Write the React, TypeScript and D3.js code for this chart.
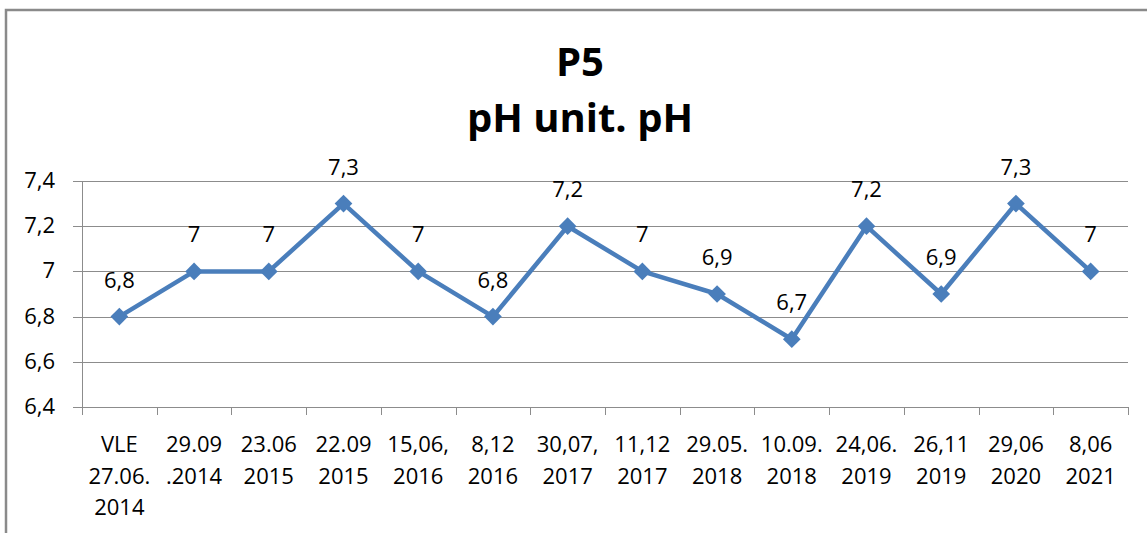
import React, { useEffect, useRef } from 'react';
import * as d3 from 'd3';

// categories (multi-line labels), values, y ticks
const categories = [
  ['VLE', '27.06.', '2014'],
  ['29.09', '.2014'],
  ['23.06', '2015'],
  ['22.09', '2015'],
  ['15,06,', '2016'],
  ['8,12', '2016'],
  ['30,07,', '2017'],
  ['11,12', '2017'],
  ['29.05.', '2018'],
  ['10.09.', '2018'],
  ['24,06.', '2019'],
  ['26,11', '2019'],
  ['29,06', '2020'],
  ['8,06', '2021'],
];
const phValues = [6.8, 7, 7, 7.3, 7, 6.8, 7.2, 7, 6.9, 6.7, 7.2, 6.9, 7.3, 7];
const yTicks = [6.4, 6.6, 6.8, 7, 7.2, 7.4];
const titleLines = ['P5', 'pH unit. pH'];

const fmt = (v: number) => String(+v.toFixed(1)).replace('.', ',');

const App = () => {
  const chartRef = useRef<SVGSVGElement>(null);

  useEffect(() => {
    const W = 1147;
    const H = 533;
    const margin = { top: 181, right: 19, bottom: 126, left: 82 };
    const width = W - margin.left - margin.right;
    const height = H - margin.top - margin.bottom;
    const font = "'Open Sans', 'Liberation Sans', sans-serif";
    const blue = '#4A7EBB';

    const root = d3.select(chartRef.current);
    root.selectAll('*').remove();

    root.append('rect')
      .attr('width', W).attr('height', H).attr('fill', '#fff');

    // outer frame
    root.append('path')
      .attr('d', `M6,${H} V10 H${W}`)
      .attr('fill', 'none')
      .attr('stroke', '#8a8a8a')
      .attr('stroke-width', 2.5);

    root.selectAll('.title')
      .data(titleLines)
      .enter()
      .append('text')
      .attr('x', 580)
      .attr('y', (d, i) => 76 + i * 56)
      .attr('text-anchor', 'middle')
      .attr('font-family', font)
      .attr('font-weight', 'bold')
      .attr('font-size', 40)
      .attr('fill', '#000')
      .text(d => d);

    const svg = root.append('g')
      .attr('transform', `translate(${margin.left},${margin.top})`);

    const xScale = d3.scaleBand<number>()
      .domain(d3.range(categories.length))
      .range([0, width]);

    const yScale = d3.scaleLinear()
      .domain([6.4, 7.4])
      .range([height, 0]);

    // gridlines
    svg.selectAll('.grid')
      .data(yTicks)
      .enter()
      .append('line')
      .attr('x1', -9).attr('x2', width)
      .attr('y1', d => Math.round(yScale(d)) + 0.5)
      .attr('y2', d => Math.round(yScale(d)) + 0.5)
      .attr('stroke', '#8c8c8c')
      .attr('stroke-width', 1);

    // y axis line
    svg.append('line')
      .attr('x1', 0.5).attr('x2', 0.5)
      .attr('y1', 0).attr('y2', height)
      .attr('stroke', '#8c8c8c');

    svg.selectAll('.ylab')
      .data(yTicks)
      .enter()
      .append('text')
      .attr('x', -27)
      .attr('y', d => yScale(d) + 7)
      .attr('text-anchor', 'end')
      .attr('font-family', font)
      .attr('font-size', 22)
      .attr('fill', '#000')
      .text(d => fmt(d));

    // x ticks
    const tickPos = d3.range(categories.length + 1).map(i => i * xScale.bandwidth());
    svg.selectAll('.xtick')
      .data(tickPos)
      .enter()
      .append('line')
      .attr('x1', d => Math.round(d) + 0.5)
      .attr('x2', d => Math.round(d) + 0.5)
      .attr('y1', height).attr('y2', height + 8)
      .attr('stroke', '#8c8c8c');

    const xLab = svg.selectAll('.xlab')
      .data(categories)
      .enter()
      .append('text')
      .attr('text-anchor', 'middle')
      .attr('font-family', font)
      .attr('font-size', 22)
      .attr('fill', '#000');
    xLab.selectAll('tspan')
      .data((d, i) => d.map(s => ({ s, i })))
      .enter()
      .append('tspan')
      .attr('x', d => xScale(d.i)! + xScale.bandwidth() / 2)
      .attr('y', (d, j) => height + 45 + j * 31.5)
      .text(d => d.s);

    const cx = (i: number) => xScale(i)! + xScale.bandwidth() / 2;

    const line = d3.line<number>()
      .x((d, i) => cx(i))
      .y(d => yScale(d));

    svg.append('path')
      .datum(phValues)
      .attr('d', line)
      .attr('fill', 'none')
      .attr('stroke', blue)
      .attr('stroke-width', 4.5)
      .attr('stroke-linejoin', 'round');

    svg.selectAll('.marker')
      .data(phValues)
      .enter()
      .append('path')
      .attr('d', d3.symbol().type(d3.symbolDiamond2).size(200))
      .attr('transform', (d, i) => `translate(${cx(i)},${yScale(d)})`)
      .attr('fill', blue);

    svg.selectAll('.dlab')
      .data(phValues)
      .enter()
      .append('text')
      .attr('x', (d, i) => cx(i))
      .attr('y', d => yScale(d) - 29)
      .attr('text-anchor', 'middle')
      .attr('font-family', font)
      .attr('font-size', 22)
      .attr('fill', '#000')
      .text(d => fmt(d));
  }, []);

  return (
    <svg ref={chartRef} width={1147} height={533} style={{ display: 'block', position: 'absolute', left: 0, top: 0 }} />
  );
};

export default App;
